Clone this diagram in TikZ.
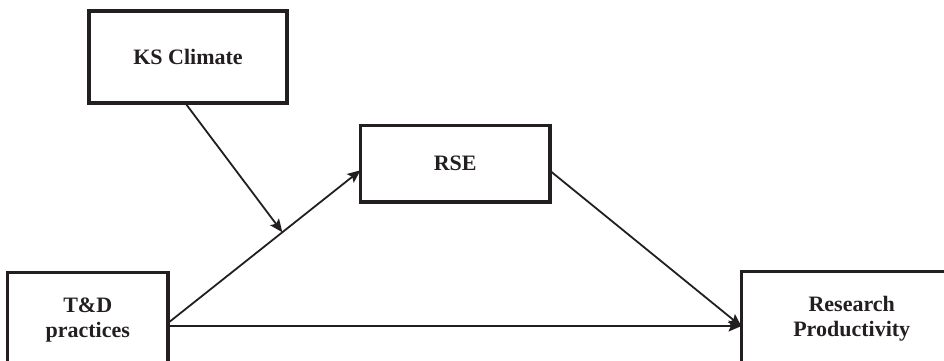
\documentclass[tikz,border=0pt]{standalone}
\usepackage{fontspec}
\setmainfont{Liberation Serif}
\usetikzlibrary{arrows.meta,calc}
\definecolor{ink}{HTML}{231F20}
\begin{document}
\begin{tikzpicture}[x=1pt,y=-1pt,
  box/.style={draw=ink,line width=3.8pt,rectangle,inner sep=0pt,outer sep=0pt,
    align=center,text=ink,font=\fontsize{22}{25}\selectfont\bfseries},
  link/.style={draw=ink,line width=1.8pt,-{Stealth[length=13pt,width=11pt,inset=2.5pt]}}]
\useasboundingbox (0,0) rectangle (944,360);
\clip (0,0) rectangle (944,360);
\node[box,minimum width=198pt,minimum height=91.5pt] (ks) at (188,57) {KS Climate};
\node[box,minimum width=189.5pt,minimum height=76.5pt] (rse) at (455.25,163.75) {RSE};
\node[box,minimum width=160.5pt,minimum height=95pt] (td) at (87.75,320) {T\&D\\practices};
\node[box,minimum width=220.5pt,minimum height=95pt] (rp) at (851.75,319) {Research\\Productivity};
\coordinate (tdA) at ($(td.east)+(0,3)$);
\coordinate (rseA) at ($(rse.west)+(0,6.5)$);
\draw[link] (tdA) -- (rseA) coordinate[pos=0.594] (m);
\coordinate (tdB) at ($(td.east)+(0,6)$);
\draw[link] (tdB) -- (tdB -| rp.west);
\draw[link] ($(rse.east)+(0,7)$) -- ($(rp.west)+(0,7.5)$);
\draw[link] ($(ks.south)+(-3,0)$) -- (m);
\end{tikzpicture}
\end{document}
